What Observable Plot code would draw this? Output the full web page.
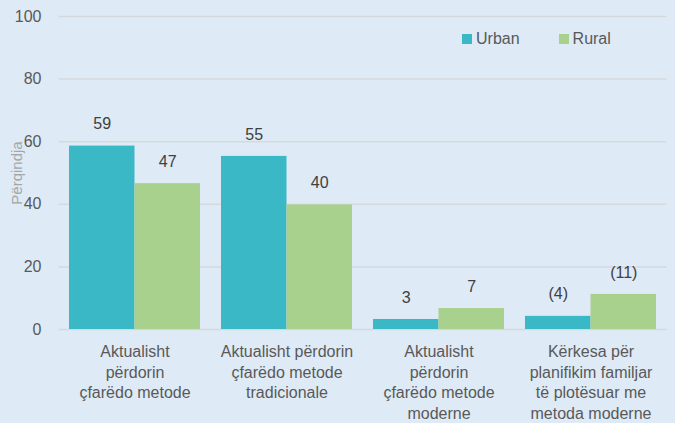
<!DOCTYPE html>
<html>
<head>
<meta charset="utf-8">
<script src="https://cdn.jsdelivr.net/npm/d3@7"></script>
<script src="https://cdn.jsdelivr.net/npm/@observablehq/plot@0.6"></script>
<style>
  html, body { margin: 0; padding: 0; background: #deeaf6; }
  #wrap { position: relative; width: 675px; height: 423px; }
  .legend { position: absolute; top: 30px; left: 462px; font-family: "Liberation Sans", Arial, sans-serif; font-size: 16px; color: #595959; display: flex; align-items: center; }
  .legend .item { display: flex; align-items: center; }
  .legend .sw { width: 10px; height: 10px; margin-right: 4px; display: inline-block; }
</style>
</head>
<body>
<div id="wrap"></div>
<script>
const categories = [
  "Aktualisht\npërdorin\nçfarëdo metode",
  "Aktualisht përdorin\nçfarëdo metode\ntradicionale",
  "Aktualisht\npërdorin\nçfarëdo metode\nmoderne",
  "Kërkesa për\nplanifikim familjar\ntë plotësuar me\nmetoda moderne"
];
const series = ["Urban", "Rural"];
const urbanValues = [58.6, 55.3, 3.2, 4.2];
const ruralValues = [46.6, 39.8, 6.7, 11.2];
const urbanLabels = ["59", "55", "3", "(4)"];
const ruralLabels = ["47", "40", "7", "(11)"];
const yTicks = [0, 20, 40, 60, 80, 100];
const colors = ["#3bb8c6", "#a9d18e"];

const W = 675, H = 423, ml = 58.5, mr = 8.5, mt = 16, mb = 94;
const pIn = 0.138, pOut = 0.069;
const step = (W - ml - mr) / (categories.length - pIn + 2 * pOut);
const half = step * (1 - pIn) / 2;

const urbanRows = categories.map((c, i) => ({category: c, value: urbanValues[i], label: urbanLabels[i]}));
const ruralRows = categories.map((c, i) => ({category: c, value: ruralValues[i], label: ruralLabels[i]}));

const chart = Plot.plot({
  width: W, height: H,
  marginLeft: ml, marginRight: mr, marginTop: mt, marginBottom: mb,
  style: {background: "#deeaf6", fontFamily: "'Liberation Sans', Arial, sans-serif"},
  x: {domain: categories, paddingInner: pIn, paddingOuter: pOut, axis: null},
  y: {domain: [0, 100], axis: null},
  marks: [
    Plot.gridY(yTicks, {stroke: "#d5d9dd", strokeOpacity: 1, strokeWidth: 1.5}),
    Plot.axisY(yTicks, {tickSize: 0, tickPadding: 17.5, fontSize: 16, color: "#595959", label: null}),
    Plot.text(["Përqindja"], {text: d => d, frameAnchor: "left", textAnchor: "middle", rotate: -90, dx: -41.5, fontSize: 15, fill: "#a6a6a6"}),
    Plot.barY(urbanRows, {x: "category", y: "value", fill: colors[0], insetRight: half}),
    Plot.barY(ruralRows, {x: "category", y: "value", fill: colors[1], insetLeft: half}),
    Plot.text(urbanRows, {x: "category", y: "value", text: "label", dx: -half / 2, dy: -22, fontSize: 16, fill: "#404040"}),
    Plot.text(ruralRows, {x: "category", y: "value", text: "label", dx: half / 2, dy: -22, fontSize: 16, fill: "#404040"}),
    Plot.text(categories, {x: d => d, text: d => d, frameAnchor: "bottom", lineAnchor: "top", dy: 13, fontSize: 16, lineHeight: 20.5 / 16, fill: "#595959", fontFamily: "'Liberation Sans Narrow', 'Liberation Sans', sans-serif"})
  ]
});

const wrap = document.getElementById("wrap");
wrap.appendChild(chart);
const legend = document.createElement("div");
legend.className = "legend";
series.forEach((s, i) => {
  const item = document.createElement("span");
  item.className = "item";
  item.style.marginRight = i === 0 ? "39px" : "0";
  const sw = document.createElement("span");
  sw.className = "sw";
  sw.style.background = colors[i];
  item.appendChild(sw);
  item.appendChild(document.createTextNode(s));
  legend.appendChild(item);
});
wrap.appendChild(legend);
</script>
</body>
</html>
